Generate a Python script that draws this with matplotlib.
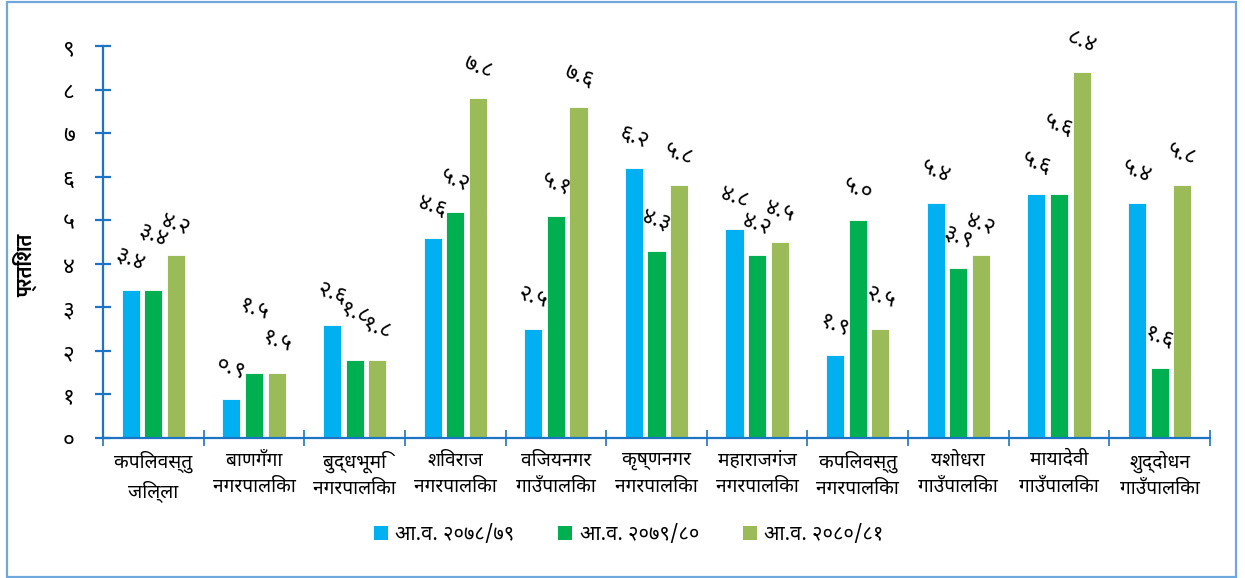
import matplotlib
matplotlib.use("Agg")
import matplotlib.pyplot as plt
from matplotlib.patches import Rectangle, Patch
import numpy as np

# ---------------- data ----------------
categories = [
    "कपिलवस्तु\nजिल्ला",
    "बाणगँगा\nनगरपालिका",
    "बुद्धभूमि\nनगरपालिका",
    "शिवराज\nनगरपालिका",
    "विजयनगर\nगाउँपालिका",
    "कृष्णनगर\nनगरपालिका",
    "महाराजगंज\nनगरपालिका",
    "कपिलवस्तु\nनगरपालिका",
    "यशोधरा\nगाउँपालिका",
    "मायादेवी\nगाउँपालिका",
    "शुद्दोधन\nगाउँपालिका",
]
series_names = ["आ.व. २०७८/७९", "आ.व. २०७९/८०", "आ.व. २०८०/८१"]
fy_2078_79 = [3.4, 0.9, 2.6, 4.6, 2.5, 6.2, 4.8, 1.9, 5.4, 5.6, 5.4]
fy_2079_80 = [3.4, 1.5, 1.8, 5.2, 5.1, 4.3, 4.2, 5.0, 3.9, 5.6, 1.6]
fy_2080_81 = [4.2, 1.5, 1.8, 7.8, 7.6, 5.8, 4.5, 2.5, 4.2, 8.4, 5.8]
y_ticks = [0, 1, 2, 3, 4, 5, 6, 7, 8, 9]
y_label = "प्रतिशत"

# ---------------- style ----------------
colors = ["#00B0F0", "#00B050", "#9BBB59"]
axis_blue = "#1C75C4"
FONT = ["Noto Sans Devanagari", "Mukta", "Hind", "FreeSans", "DejaVu Sans"]
plt.rcParams["font.family"] = FONT

DEV = str.maketrans("0123456789", "०१२३४५६७८९")
def dev(s):
    return str(s).translate(DEV)

# extra upward nudge (px) for labels Excel moved to avoid overlaps: (series, category)
label_nudge_px = {(1, 0): 24, (1, 1): 32, (1, 2): 15, (1, 9): 38}

fig = plt.figure(figsize=(12.45, 5.78), dpi=100)
fig.patches.append(Rectangle((7 / 1245, 1 / 578), (1236 - 7) / 1245, (576 - 1) / 578,
                             transform=fig.transFigure, fill=False,
                             edgecolor="#6FA8DC", linewidth=1.6))

ax = fig.add_axes([103 / 1245, 1 - 438 / 578, (1210 - 103) / 1245, (438 - 46) / 578])

x = np.arange(len(categories))
width = 0.18
step = 0.225
all_series = [fy_2078_79, fy_2079_80, fy_2080_81]
for i, (vals, c, name) in enumerate(zip(all_series, colors, series_names)):
    xs = x + (i - 1) * step
    ax.bar(xs, vals, width=width, color=c, edgecolor="white", linewidth=0.6, label=name)
    for j, (xx, v) in enumerate(zip(xs, vals)):
        off = 31 + label_nudge_px.get((i, j), 0)
        ax.annotate(dev(f"{v:.1f}"), (xx, v), xytext=(0, off * 0.72),
                    textcoords="offset points", ha="center", va="center",
                    rotation=-20, rotation_mode="anchor", fontsize=16.5,
                    color="black")

ax.set_xlim(-0.5, len(categories) - 0.5)
ax.set_ylim(0, 9)
for s in ["top", "right"]:
    ax.spines[s].set_visible(False)
for s in ["left", "bottom"]:
    ax.spines[s].set_color(axis_blue)
    ax.spines[s].set_linewidth(1.6)

ax.set_yticks(y_ticks)
ax.set_yticklabels([dev(t) for t in y_ticks], fontsize=16.5)
ax.tick_params(axis="y", direction="inout", length=11, width=1.6, color=axis_blue, pad=15)

ax.set_xticks(x)
ax.set_xticklabels(categories, fontsize=13.8, linespacing=1.4)
ax.tick_params(axis="x", which="major", length=0, pad=9)
ax.set_xticks(np.arange(-0.5, len(categories), 1.0), minor=True)
ax.tick_params(axis="x", which="minor", direction="inout", length=11, width=1.2, color=axis_blue)

fig.text(25 / 1245, 1 - 265 / 578, y_label, rotation=90, ha="center", va="center",
         fontsize=15, fontweight="bold",
         family=["Ek Mukta", "Noto Sans Devanagari", "DejaVu Sans"])

handles = [Patch(facecolor=c, edgecolor="none") for c in colors]
fig.legend(handles, series_names, loc="center", bbox_to_anchor=(0.505, 1 - 535 / 578),
           ncol=3, frameon=False, fontsize=14.5, handlelength=0.7, handleheight=0.7,
           handletextpad=0.35, columnspacing=2.2)

fig.savefig("out.png", dpi=100)
